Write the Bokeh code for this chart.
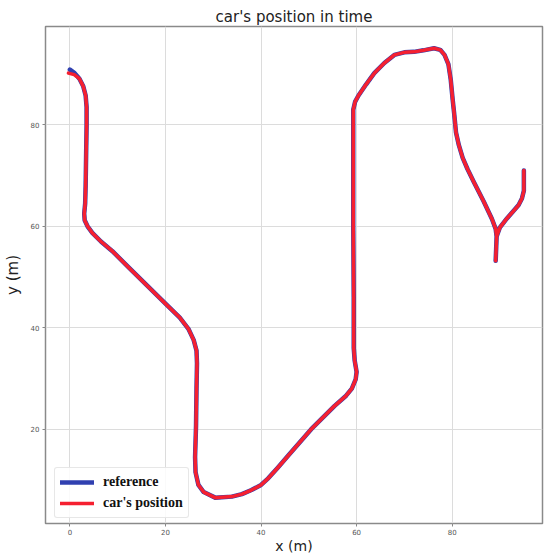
from bokeh.plotting import figure
from bokeh.models import Range1d, Legend, LegendItem, FixedTicker
from bokeh.embed import file_html
from bokeh.resources import INLINE

title_text = "car's position in time"
x_label = "x (m)"
y_label = "y (m)"
x_ticks = [0, 20, 40, 60, 80]
y_ticks = [20, 40, 60, 80]

ref_x = [0.0, 1.0, 2.0, 2.8, 3.3, 3.5, 3.5, 3.4, 3.3, 3.2, 3.0, 3.1, 3.7, 4.7, 6.5, 8.9,
         12.3, 16.5, 20.7, 23.0, 24.8, 25.9, 26.5, 26.6, 26.5, 26.4, 26.2, 26.3, 26.9,
         28.0, 30.4, 33.9, 36.0, 38.0, 40.0, 41.5, 43.5, 45.7, 50.5, 55.4, 57.8, 59.0,
         59.8, 60.0, 59.6, 59.4, 59.4, 59.4, 59.3, 59.3, 59.3, 59.3, 59.7, 60.4, 62.0,
         63.7, 65.8, 67.9, 70.0, 72.0, 74.0, 76.2, 77.5, 78.4, 79.2, 79.7, 80.1, 80.4,
         80.8, 81.4, 82.2, 83.2, 84.5, 86.6, 88.3, 89.1, 89.3, 89.2, 89.1,
         89.2, 89.3, 90.0, 91.5, 93.0, 93.9, 94.6, 95.0, 95.0, 95.0]
ref_y = [90.9, 90.2, 89.1, 87.6, 85.8, 83.5, 80.0, 74.0, 68.0, 64.5, 62.5, 61.2, 60.0, 58.7,
         57.0, 55.1, 51.9, 48.0, 44.1, 42.0, 39.8, 37.6, 35.5, 33.0, 28.0, 20.7, 14.5,
         11.5, 9.0, 7.6, 6.5, 6.7, 7.2, 8.0, 9.0, 10.3, 12.4, 14.8, 20.0, 24.6, 26.6,
         28.0, 29.8, 31.3, 33.5, 36.0, 40.2, 46.0, 60.0, 69.4, 80.0, 83.0, 84.6, 85.8,
         88.0, 90.2, 92.2, 93.8, 94.3, 94.4, 94.7, 95.1, 94.8, 93.8, 92.0, 88.9, 85.0,
         82.4, 78.5, 76.0, 73.5, 71.3, 68.8, 64.9, 61.5, 59.5, 58.0, 55.5, 53.2,
         55.5, 58.0, 59.8, 61.6, 63.2, 64.2, 65.5, 67.0, 69.0, 71.0]

car_x = [-0.3, 0.9] + ref_x[2:]
car_y = [90.2, 89.9] + ref_y[2:]

p = figure(width=547, height=556, output_backend="svg", toolbar_location=None,
           x_range=Range1d(-5.1, 98.9), y_range=Range1d(1.4, 99.4),
           min_border_left=43, min_border_right=5, min_border_top=26, min_border_bottom=27,
           background_fill_color="white", border_fill_color="white")

p.title.text = title_text
p.title.align = "center"
p.title.text_font = "DejaVu Sans"
p.title.text_font_size = "15px"
p.title.text_font_style = "normal"
p.title.text_color = "#222222"
p.title.standoff = 2

p.outline_line_color = "#8a8a8a"
p.outline_line_width = 1.5

for ax, lab, ticks in ((p.xaxis[0], x_label, x_ticks), (p.yaxis[0], y_label, y_ticks)):
    ax.ticker = FixedTicker(ticks=ticks)
    ax.axis_label = lab
    ax.axis_label_text_font = "DejaVu Sans"
    ax.axis_label_text_font_size = "15px"
    ax.axis_label_text_font_style = "normal"
    ax.axis_label_text_color = "#222222"
    ax.major_label_text_font = "DejaVu Sans"
    ax.major_label_text_font_size = "7px"
    ax.major_label_text_color = "#555555"
    ax.axis_line_color = None
    ax.major_tick_line_color = "#888888"
    ax.major_tick_out = 3
    ax.major_tick_in = 0
    ax.minor_tick_line_color = None
    ax.major_label_standoff = 3

p.xaxis[0].axis_label_standoff = 0
p.xaxis[0].major_label_standoff = 2
p.xaxis[0].axis_label_text_font_size = "14px"
p.yaxis[0].axis_label_standoff = 6

p.xgrid.ticker = FixedTicker(ticks=x_ticks)
p.ygrid.ticker = FixedTicker(ticks=y_ticks)
p.grid.grid_line_color = "#dcdcdc"
p.grid.grid_line_width = 1

r_ref = p.line(ref_x, ref_y, line_color="#3040b0", line_width=4.5,
               line_join="round", line_cap="round")
r_car = p.line(car_x, car_y, line_color="#f52030", line_width=3.5,
               line_join="round", line_cap="round")

legend = Legend(items=[LegendItem(label="reference", renderers=[r_ref]),
                       LegendItem(label="car's position", renderers=[r_car])],
                location=(9, 5), margin=0, padding=5, spacing=3,
                glyph_width=34, glyph_height=18, label_height=18, label_standoff=9,
                label_text_font="Liberation Serif", label_text_font_style="bold",
                label_text_font_size="14px", label_text_color="#111111",
                border_line_color="#d0d0d0", border_line_width=1,
                background_fill_color="white", background_fill_alpha=0.85,
                border_radius=3)
p.add_layout(legend)

open("out.html", "w").write(file_html(p, INLINE))
